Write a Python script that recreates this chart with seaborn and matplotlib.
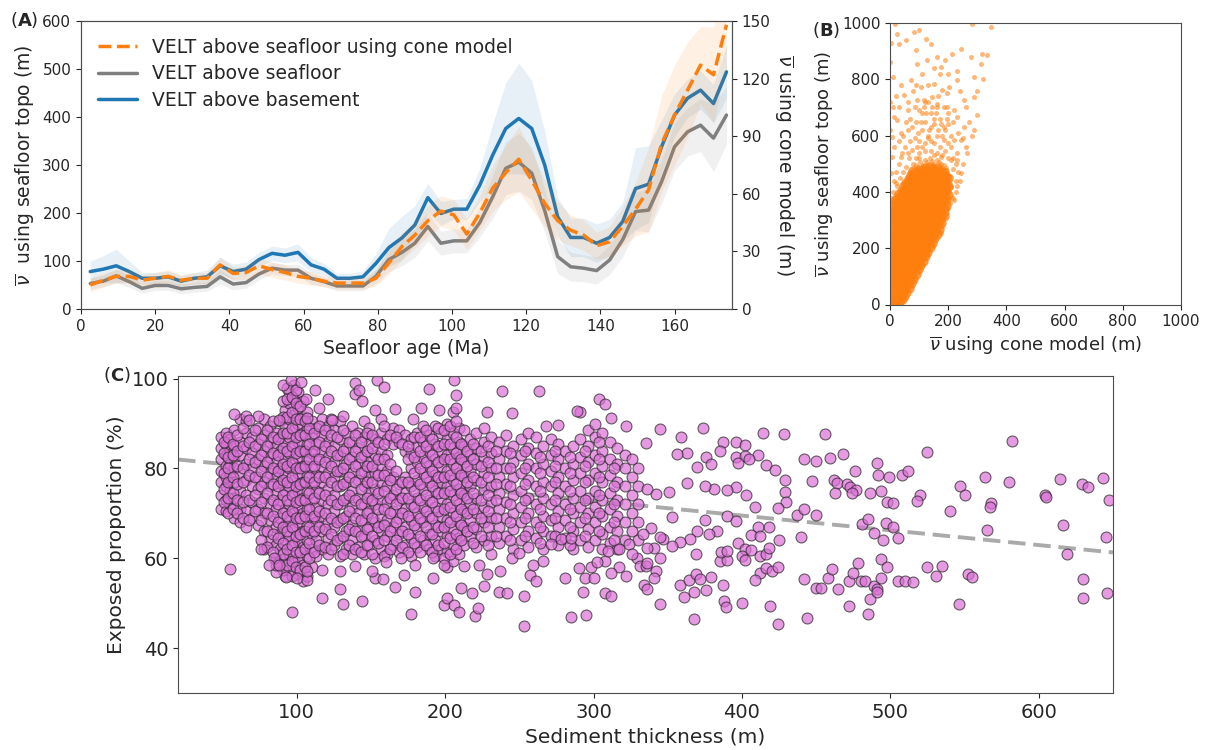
import matplotlib
matplotlib.use("Agg")
import matplotlib.pyplot as plt
import numpy as np
import pandas as pd
import seaborn as sns

# ---------------- panel A : binned VELT means ----------------
age = [2.5, 6, 9.5, 13, 16.5, 20, 23.5, 27, 30.5, 34, 37.5, 41, 44.5, 48, 51.5, 55, 58.5, 62, 65.5, 69,
       72.5, 76, 79.5, 83, 86.5, 90, 93.5, 97, 100.5, 104, 107.5, 111, 114.5, 118, 121.5, 125, 128.5, 132,
       135.5, 139, 142.5, 146, 149.5, 153, 156.5, 160, 163.5, 167, 170.5, 174]
basement = [78, 83, 90, 78, 64, 64, 67, 58, 64, 67, 90, 78, 83, 103, 116, 112, 118, 92, 83, 64,
            64, 67, 95, 128, 148, 175, 232, 199, 208, 208, 258, 321, 376, 397, 376, 300, 192, 149,
            149, 137, 149, 182, 251, 260, 338, 404, 439, 456, 428, 494]
seafloor = [53, 58, 69, 57, 43, 49, 49, 42, 45, 47, 67, 52, 55, 73, 85, 81, 81, 64, 57, 48,
            48, 48, 68, 103, 118, 137, 172, 137, 142, 142, 180, 234, 293, 306, 283, 205, 109, 88,
            85, 80, 102, 144, 203, 206, 265, 338, 369, 383, 356, 404]
cone = [12.5, 15, 17, 17, 15, 16, 17, 15, 16, 16, 23, 18.5, 19, 22.5, 20.5, 19, 17, 16, 14.5, 13.5,
        13.5, 13.5, 16, 24, 32.5, 38.5, 46, 51, 49, 39, 50, 63, 71, 78, 67, 55, 46, 41,
        38.5, 33, 35, 43, 52, 62, 86, 101, 114, 127, 122, 148]
basement_hw = [22, 28, 35, 22, 12, 12, 12, 12, 12, 14, 18, 15, 15, 15, 15, 15, 18, 15, 12, 10,
               10, 12, 20, 40, 45, 40, 30, 25, 20, 22, 35, 65, 95, 115, 100, 70, 40, 40,
               40, 40, 38, 40, 85, 80, 55, 45, 40, 40, 40, 55]
seafloor_hw = [12, 12, 14, 12, 10, 10, 10, 10, 10, 10, 15, 12, 12, 12, 12, 12, 12, 12, 10, 10,
               10, 10, 15, 25, 28, 30, 30, 25, 25, 25, 30, 45, 55, 60, 55, 45, 35, 30,
               28, 28, 30, 35, 40, 45, 45, 50, 50, 55, 70, 60]
cone_hw = [3.5, 3.5, 3.5, 3.5, 3, 3, 3.5, 3, 3, 3, 4, 3.5, 3.5, 4, 4, 4, 3.5, 3.5, 3, 3,
           3, 3, 4, 6, 7, 7, 8, 8, 8, 8, 9, 12, 14, 17, 15, 12, 10, 8,
           8, 7, 8, 10, 14, 22, 25, 26, 25, 20, 25, 22]

# ---------------- panel B : cone model vs seafloor topo ----------------
b_core = {
    0: [5, 30, 55, 80, 105, 130, 155, 180, 205, 230, 255, 280, 305, 330],
    8: [15, 42, 68, 95, 120, 148, 172, 198, 225, 250, 276, 300, 326, 352],
    16: [3, 28, 55, 80, 108, 132, 160, 185, 212, 238, 262, 290, 315, 340, 368],
    24: [12, 40, 65, 92, 118, 145, 170, 196, 222, 248, 274, 300, 325, 352, 380],
    32: [8, 28, 55, 80, 105, 132, 158, 184, 210, 236, 262, 288, 312, 338, 365, 392],
    40: [18, 42, 68, 95, 120, 146, 172, 198, 224, 250, 276, 302, 328, 354, 380, 405],
    48: [30, 55, 82, 108, 134, 160, 186, 212, 238, 264, 290, 316, 342, 368, 394, 420],
    56: [45, 70, 96, 122, 148, 174, 200, 226, 252, 278, 304, 330, 356, 382, 408, 432],
    64: [60, 86, 112, 138, 164, 190, 216, 242, 268, 294, 320, 346, 372, 398, 424, 446],
    72: [75, 100, 126, 152, 178, 204, 230, 256, 282, 308, 334, 360, 386, 412, 438, 460],
    80: [92, 118, 144, 170, 196, 222, 248, 274, 300, 326, 352, 378, 404, 430, 456, 475],
    88: [108, 134, 160, 186, 212, 238, 264, 290, 316, 342, 368, 394, 420, 446, 470],
    96: [125, 150, 176, 202, 228, 254, 280, 306, 332, 358, 384, 410, 436, 462],
    104: [140, 166, 192, 218, 244, 270, 296, 322, 348, 374, 400, 426, 452, 478],
    112: [156, 182, 208, 234, 260, 286, 312, 338, 364, 390, 416, 442, 468],
    120: [172, 198, 224, 250, 276, 302, 328, 354, 380, 406, 432, 458, 484],
    128: [188, 214, 240, 266, 292, 318, 344, 370, 396, 422, 448, 474],
    136: [204, 230, 256, 282, 308, 334, 360, 386, 412, 438, 464, 490],
    144: [220, 246, 272, 298, 324, 350, 376, 402, 428, 454, 480],
    152: [236, 262, 288, 314, 340, 366, 392, 418, 444, 470],
    160: [252, 278, 304, 330, 356, 382, 408, 434, 460, 486],
    168: [270, 296, 322, 348, 374, 400, 426, 452, 478],
    176: [290, 316, 342, 368, 394, 420, 446, 472],
    184: [315, 340, 366, 392, 418, 444, 470],
    192: [350, 376, 402, 428, 454],
    200: [390, 420, 450],
}
b_sparse = [(17, 998), (25, 962), (31, 927), (11, 809), (54, 939), (82, 968), (100, 974), (88, 903),
            (123, 945), (126, 868), (140, 927), (163, 880), (174, 844), (92, 856), (151, 785), (71, 797),
            (105, 773), (214, 891), (243, 909), (277, 880), (289, 809), (312, 856), (317, 891), (334, 885),
            (346, 986), (283, 998), (37, 779), (254, 726), (197, 750), (231, 797), (289, 738), (300, 673),
            (48, 744), (94, 726), (14, 667), (8, 596), (8, 525), (5, 466), (25, 655), (60, 691),
            (111, 679), (163, 714), (203, 773), (231, 667), (220, 584), (231, 514), (243, 466), (208, 419),
            (197, 325), (220, 372), (174, 254), (37, 608), (77, 632), (140, 632), (185, 632), (220, 691),
            (254, 632), (243, 584), (266, 537), (94, 561), (37, 525), (60, 537), (180, 761), (145, 738),
            (117, 726), (197, 702), (157, 679), (185, 584), (208, 514), (42, 372), (19, 431), (25, 348),
            (197, 466), (174, 525), (120, 650), (140, 680), (110, 620), (130, 600), (150, 640), (170, 660),
            (190, 620), (160, 700), (100, 580), (180, 600), (210, 560), (200, 640), (120, 720), (90, 650),
            (60, 620), (70, 580), (50, 560), (40, 540), (30, 500), (20, 470), (15, 440), (200, 520),
            (215, 480), (225, 440), (160, 600), (140, 580)]
b_mid = [(60, 450), (70, 470), (80, 500), (90, 520), (100, 540), (110, 560), (120, 575), (130, 590),
         (150, 575), (170, 560), (190, 545), (200, 575), (215, 520), (225, 500), (235, 470), (230, 540),
         (210, 600), (195, 660), (175, 640), (165, 620), (150, 660), (135, 620), (125, 680), (105, 650),
         (95, 610), (85, 590), (75, 550), (65, 520), (55, 490), (45, 470), (35, 450), (25, 420),
         (10, 400), (5, 380), (15, 560), (30, 580), (45, 600), (55, 650), (70, 660), (85, 700),
         (100, 690), (115, 700), (130, 720), (145, 700), (165, 740), (185, 700), (200, 680), (215, 650),
         (235, 610), (250, 590), (260, 560), (250, 500), (240, 440), (230, 420), (225, 400), (215, 380),
         (205, 360), (60, 720), (80, 760), (30, 700), (20, 740), (10, 700), (130, 780), (170, 820),
         (200, 820), (240, 760), (260, 700), (270, 650), (280, 600), (290, 620), (110, 820), (90, 780),
         (150, 840), (190, 870), (230, 830), (0, 620), (0, 720), (0, 860), (2, 930), (300, 760), (320, 800),
         (96, 490), (104, 505), (112, 495), (120, 515), (128, 505), (136, 520), (144, 510), (152, 500),
         (160, 515), (168, 505), (176, 500), (184, 495), (192, 485), (88, 495), (120, 545), (140, 545),
         (160, 540), (180, 530), (100, 520), (150, 530)]

# ---------------- panel C : sediment thickness vs exposed proportion ----------------
c_dense = {
    49: [71, 74, 77, 79.5, 82, 84.5, 87],
    52: [70.5, 73, 76, 78, 80.5, 83, 85.5, 88],
    55: [72, 75, 78.5, 81, 84, 86.5],
    58: [69, 73.5, 77, 80, 82.5, 85, 88.5],
    62: [68, 71, 75, 79, 83, 86, 91],
    66: [67, 70.5, 74, 77.5, 81, 84.5, 88, 90.5],
    70: [69, 72.5, 76, 80, 83.5, 87],
    74: [67.5, 71, 75.5, 78, 82, 85.5, 89],
    78: [62, 66, 70, 73.5, 77, 80.5, 84, 87.5, 91],
    82: [64, 68.5, 72, 76, 79, 82.5, 86, 89.5],
    86: [60, 63, 67, 71, 74.5, 78, 81.5, 85, 88],
    89: [58.5, 62, 65.5, 69, 73, 77, 80, 84, 87, 90.5],
    92: [56, 60, 64, 67.5, 71, 75, 78.5, 82, 86, 89.5, 93],
    95: [57.5, 61, 65, 68.5, 72, 76, 80, 83.5, 87, 91, 94.5, 97],
    98: [59.5, 63, 66.5, 70, 74, 77.5, 81, 85, 88.5, 92, 95.5, 98.5],
    101: [56.5, 60, 64, 68, 71.5, 75, 79, 82.5, 86, 90, 93.5, 97],
    104: [55, 58.5, 62.5, 66, 70, 73.5, 77, 80.5, 84, 88, 91.5, 95],
    107: [56, 60.5, 64, 67.5, 71, 75, 78.5, 82, 85.5, 89, 92.5],
    110: [58, 62, 65.5, 69, 73, 76.5, 80, 83.5, 87, 90.5],
    113: [60.5, 64, 68, 71.5, 75, 78.5, 82, 85.5, 89],
    117: [62, 66, 69.5, 73, 77, 80.5, 84, 87.5, 91],
    121: [61, 64.5, 68, 72, 75.5, 79, 82.5, 86, 89.5],
    125: [63, 67, 70.5, 74, 78, 81.5, 85, 88.5],
    129: [60.5, 64.5, 68.5, 72, 76, 79.5, 83, 86.5, 90.5],
    133: [62, 66, 69.5, 73.5, 77, 81, 84.5, 88],
    137: [61, 64, 67.5, 71.5, 75, 79, 82.5, 86, 89.5],
    141: [62.5, 66, 70, 73.5, 77.5, 81, 84.5, 88],
    145: [61, 65, 68.5, 72, 76, 79.5, 83, 87, 90.5],
    149: [63, 67, 70.5, 74.5, 78, 81.5, 85.5, 89],
    153: [60, 64, 68, 72, 75.5, 79, 83, 86.5],
    157: [62, 66, 69.5, 73, 77, 80.5, 84, 88, 91],
    161: [61, 65, 68.5, 72.5, 76, 79.5, 83, 86.5],
    165: [63, 67, 70.5, 74, 78, 85.5, 89],
    169: [61.5, 65.5, 69, 73, 76.5, 86, 88.5],
    173: [63, 67, 71, 74.5, 78, 84, 87.5],
    177: [60.5, 64.5, 68.5, 72, 76, 80, 83.5, 86.5],
    181: [62.5, 66.5, 70, 73.5, 77.5, 81.5, 85, 88],
    185: [64, 68, 71.5, 75.5, 79, 82.5, 86, 89.5],
    189: [62, 65.5, 69.5, 73, 77, 80.5, 84, 87.5],
    193: [60.5, 64, 67.5, 71.5, 75, 78.5, 82, 85.5, 89.5],
    197: [62, 66, 69.5, 73.5, 77, 80.5, 84, 88],
    201: [58, 61.5, 65, 68.5, 72, 76, 79.5, 83, 86.5, 90],
    205: [59.5, 63, 66.5, 70, 74, 77.5, 81, 84.5, 88, 92.5],
    209: [61, 64.5, 68, 72, 75.5, 79, 82.5, 86, 89],
    213: [63, 67, 70.5, 74, 78, 81.5, 85, 88.5],
    217: [65, 68.5, 72, 76, 79.5, 83, 86.5],
    221: [62.5, 66.5, 70, 73.5, 77.5, 81, 84.5, 88],
    226: [64, 68, 71.5, 75.5, 79, 82.5, 86, 89],
    231: [61, 65, 69, 72.5, 76, 80, 83.5, 87],
    236: [63.5, 67, 71, 74.5, 78, 82, 86],
    241: [65, 69, 72.5, 76.5, 80, 84, 87.5],
    246: [62, 66.5, 70, 74, 78, 81.5, 85],
    251: [64, 68, 71.5, 75, 79, 83, 86.5],
    256: [62.5, 66, 70, 73.5, 77.5, 81, 84.5, 88],
    261: [64.5, 68, 72, 76, 80, 83.5, 87],
    266: [62, 66, 69.5, 73.5, 77, 81, 85],
    271: [65, 68.5, 72, 76, 79.5, 83, 86.5],
    276: [63, 67, 70.5, 74.5, 78, 82, 85.5],
    281: [64.5, 68.5, 72, 76, 80, 84],
    286: [62, 66, 70, 73.5, 77.5, 81, 85],
    291: [64, 68, 71.5, 75, 79, 82.5, 86.5, 92.5],
    296: [62.5, 66.5, 70, 73.5, 77.5, 81.5, 85, 88.5],
    301: [64, 68, 71.5, 75, 79, 83, 87, 90],
    306: [62, 65.5, 69.5, 73, 77, 80.5, 84, 88],
    311: [63.5, 67, 71, 74.5, 78.5, 82, 86],
    316: [62, 66, 69.5, 73, 77, 81, 84.5],
    321: [64, 68, 72, 76, 80, 83],
    326: [66, 70, 74, 78, 82],
    330: [64, 68, 72, 76, 80],
}
c_dense2 = {
    51: [72.5, 75.5, 79, 83.5, 86],
    54: [70, 73.5, 77, 80, 82.5, 87],
    57: [71, 74.5, 78, 83, 85.5],
    60: [70, 73, 76.5, 80.5, 84, 87.5],
    64: [69, 72.5, 77, 80, 85, 89],
    68: [68.5, 73, 78.5, 82, 86],
    72: [70.5, 74, 78, 81.5, 85, 88.5],
    76: [64, 68.5, 72.5, 76, 79.5, 83, 86.5],
    80: [62.5, 66, 70, 74.5, 78, 81.5, 85, 88.5],
    84: [61.5, 65.5, 69.5, 73, 76.5, 80, 83.5, 87, 90.5],
    87.5: [59, 64.5, 68, 72, 76, 79.5, 83, 86.5],
    90.5: [57.5, 61, 63.5, 67, 70, 74, 77.5, 81, 84.5, 88, 91.5, 95],
    93.5: [58.5, 62, 66, 69.5, 73, 77, 80.5, 84, 88, 91.5, 95.5, 98],
    96.5: [56, 59.5, 63, 67, 70.5, 74, 78, 81.5, 85, 89, 92.5, 96],
    99.5: [58, 61.5, 65, 69, 72.5, 76, 80, 83.5, 87, 91, 94.5, 97.5],
    102.5: [57.5, 61.5, 65.5, 69, 73, 76.5, 80, 84, 87.5, 91, 94],
    105.5: [58, 62, 66, 69.5, 73, 77, 80.5, 84, 87.5, 90.5],
    108.5: [60, 63.5, 67, 71, 74.5, 78, 82, 85.5, 89],
    111.5: [61.5, 66, 69.5, 73.5, 77, 80.5, 84, 88],
    115: [63, 67, 70.5, 74.5, 78, 82, 86, 89.5],
    119: [62.5, 66.5, 70, 74, 78, 81.5, 85, 88.5],
    123: [62, 65.5, 69, 73, 77, 80.5, 84, 87.5, 91],
    127: [64, 68, 72, 76, 79.5, 83, 87],
    131: [61, 65, 69, 73, 76.5, 80, 84, 88.5],
    135: [63, 66.5, 70.5, 74, 78, 82, 86],
    139: [62, 66, 69, 73, 77, 80.5, 84, 87.5],
    143: [61.5, 65, 68.5, 72, 75.5, 79, 82.5, 86],
    147: [63, 66.5, 70, 73.5, 77, 80.5, 84, 88],
    151: [61, 65, 69, 73, 77, 80.5, 84.5, 87.5],
    155: [63.5, 67, 71, 74.5, 78.5, 82, 86],
    159: [60.5, 64, 67.5, 71, 75, 78.5, 82, 85.5, 89.5],
    163: [62, 66, 70, 73.5, 77.5, 81, 87.5],
    167: [64, 68, 72, 75.5, 79.5, 87],
    171: [62.5, 66, 70, 73.5, 77, 85.5],
    175: [61.5, 65.5, 69.5, 73.5, 77, 82, 85],
    179: [63.5, 67.5, 71.5, 75, 79, 82.5, 87],
    183: [61.5, 65, 69, 73, 76.5, 80, 84, 87],
    187: [63, 67, 70.5, 74, 78, 81.5, 85, 88.5],
    191: [61.5, 65.5, 69, 72.5, 76, 79.5, 83, 86.5],
    195: [63, 67, 70.5, 74.5, 78, 81.5, 85, 89],
    199: [60, 63.5, 67, 71, 74.5, 78, 82, 85.5, 88.5],
    203: [61, 64.5, 68, 71.5, 75, 78.5, 82, 85.5, 89.5],
    207: [62, 65.5, 69.5, 73, 76.5, 80, 83.5, 87, 90.5],
    211: [64, 67.5, 71, 74.5, 78.5, 82, 85.5],
    215: [66, 70, 73.5, 77, 80.5, 84],
    219: [63.5, 67, 71, 74.5, 78, 82, 85.5],
    224: [65, 69, 73, 77, 80.5, 84],
    229: [63, 67, 70.5, 74, 78, 81.5, 85],
    234: [65, 69, 73, 76.5, 80, 84],
    244: [64, 68, 72, 76, 80, 83.5],
    254: [65, 69, 73, 76.5, 80, 84],
    264: [63.5, 67, 71, 75, 79, 82.5],
    274: [65, 69, 73, 77, 80.5, 84],
    284: [63, 67, 71, 75, 79, 82.5],
    294: [65, 69, 73, 77, 80.5, 84],
    304: [66, 70, 74, 78, 82, 86],
    314: [64, 68, 72, 76, 80],
}
c_left = [(91, 98.7), (96, 99.7), (103, 99.2), (112, 97.4), (121, 95.5), (139, 96.5), (139, 99.1), (142, 97.4),
          (144, 95.0), (154, 99.7), (159, 98.1), (189, 97.6), (206, 99.6), (207, 96.3), (238, 97.2), (263, 97.2),
          (289, 92.9), (304, 95.5), (308, 94.4), (312, 91.2), (322, 89.5), (276, 89.7), (268, 89.4), (245, 92.4),
          (228, 92.5), (207, 93.5), (196, 93.1), (184, 93.5), (178, 91.0), (166, 93.2), (153, 93.1), (131, 91.6),
          (124, 90.9), (115, 93.5), (107, 91.2), (106, 95.4), (88, 90.9), (58, 92.1), (66, 91.7), (74, 91.6),
          (68, 90.7), (55, 57.7), (97, 48), (93, 55.8), (100, 55.6), (107, 55.2), (117, 51.1), (129, 53.2),
          (131, 49.8), (144, 50.4), (153, 55.6), (158, 55.4), (166, 53.5), (172, 56.2), (177, 47.5), (180, 52.6),
          (192, 55.6), (199, 49.5), (201, 51.1), (206, 49.6), (209, 48.1), (211, 53.4), (218, 52.2), (220, 47.2),
          (222, 49.0), (226, 53.9), (236, 52.6), (242, 52.2), (253, 45.0), (253, 51.5), (257, 56.3), (261, 54.9),
          (285, 47.0), (295, 47.3), (293, 52.6), (294, 55.6), (308, 52.2), (312, 51.5), (317, 58.0), (312, 56.7),
          (308, 59.4), (86, 57.0), (86, 58.6), (85, 60.1), (76, 62.1), (81, 58.6), (88, 58.6), (107, 57.1),
          (117, 57.5), (129, 57.1), (139, 58.2), (151, 57.1), (160, 59.2), (170, 60.1), (180, 58.6), (192, 60.1),
          (199, 58.6), (213, 58.2), (223, 58.6), (228, 56.4), (237, 57.1), (245, 60.1), (250, 61.2), (259, 58.6),
          (266, 59.4), (271, 63.1), (278, 64.2), (285, 64.6), (290, 57.9), (298, 58.0), (302, 59.2), (310, 61.6),
          (317, 62.0), (324, 63.1), (329, 60.1), (331, 58.2), (322, 56.0), (300, 55.6), (281, 55.6), (326, 60.9)]
c_right = [(345, 88.8), (374, 89.1), (359, 87.0), (414, 87.9), (428, 87.6), (456, 87.6), (582, 86.1), (525, 83.6),
           (335, 85.7), (387, 86.0), (396, 86.0), (402, 85.2), (363, 83.5), (356, 83.2), (376, 82.6), (385, 83.8),
           (396, 82.6), (402, 82.8), (411, 83.1), (370, 80.4), (379, 80.9), (397, 81.3), (405, 82.0), (416, 80.7),
           (422, 79.7), (442, 82.0), (450, 81.6), (459, 82.4), (468, 83.3), (491, 81.3), (476, 79.5), (492, 78.6),
           (499, 78.1), (508, 78.5), (512, 79.4), (564, 78.1), (580, 77.0), (614, 77.6), (629, 76.5), (633, 75.9),
           (643, 77.9), (429, 77.5), (447, 77.2), (462, 77.4), (464, 76.7), (471, 76.6), (473, 75.9), (477, 75.1),
           (474, 74.5), (463, 74.5), (486, 74.5), (494, 74.9), (429, 74.7), (430, 72.6), (424, 71.2), (409, 71.5),
           (403, 74.1), (396, 75.9), (390, 75.1), (381, 75.5), (375, 76.2), (363, 76.8), (351, 74.7), (342, 74.4),
           (336, 75.5), (547, 76.2), (550, 74.0), (520, 74.1), (518, 72.8), (498, 72.5), (502, 72.3), (540, 70.5),
           (568, 72.3), (567, 71.5), (604, 74.0), (605, 73.6), (647, 72.9), (437, 69.7), (442, 71.0), (450, 69.6),
           (353, 69.2), (375, 68.5), (390, 69.5), (396, 68.4), (481, 67.6), (485, 68.7), (489, 65.7), (497, 67.8),
           (502, 66.9), (505, 64.5), (565, 66.3), (616, 67.4), (645, 64.7), (619, 60.9), (495, 64.0), (440, 64.8),
           (418, 66.9), (411, 66.9), (406, 65.2), (412, 65.0), (425, 64.0), (370, 66.0), (383, 66.0), (378, 65.3),
           (365, 64.4), (358, 63.7), (353, 62.7), (347, 64.2), (345, 64.8), (339, 66.7), (333, 65.3), (341, 62.4),
           (336, 62.2), (345, 60.0), (335, 58.2), (336, 59.0), (342, 57.1), (341, 55.6), (334, 54.1), (336, 53.1),
           (358, 54.1), (364, 55.2), (369, 56.4), (372, 55.4), (379, 55.8), (387, 54.1), (385, 59.4), (390, 59.7),
           (386, 61.4), (390, 61.7), (397, 63.3), (402, 62.0), (400, 60.5), (402, 59.7), (406, 61.8), (412, 60.6),
           (416, 60.9), (418, 62.2), (412, 56.7), (416, 57.9), (420, 57.2), (424, 58.1), (409, 55.2), (369, 60.9),
           (376, 53.0), (361, 51.3), (368, 52.6), (388, 50.5), (389, 49.2), (400, 50.1), (419, 49.4), (424, 45.3),
           (368, 46.4), (345, 49.8), (444, 46.8), (442, 55.4), (450, 53.4), (453, 53.4), (458, 55.7), (461, 57.7),
           (465, 53.2), (472, 55.0), (478, 59.0), (475, 56.7), (480, 55.0), (483, 55.0), (485, 47.5), (472, 49.4),
           (486, 51.0), (489, 53.9), (491, 53.1), (494, 55.6), (494, 59.9), (498, 58.1), (491, 52.6), (505, 55.0),
           (510, 54.9), (515, 54.7), (525, 58.1), (531, 56.1), (535, 58.2), (546, 49.8), (552, 56.6), (555, 55.8),
           (630, 55.4), (630, 51.1), (646, 52.2)]
reg_x = [20, 650]
reg_y = [82.0, 61.3]


def cols_to_df(cols, xname, yname):
    rows = [(x, y) for x, ys in cols.items() for y in ys]
    return pd.DataFrame(rows, columns=[xname, yname])


sns.set_style("ticks", {"axes.edgecolor": "0.3"})
plt.rcParams["font.family"] = ["DejaVu Sans"]

BLUE, GRAY, ORANGE = "#1f77b4", "#7f7f7f", "#ff7f0e"
nu = r"$\overline{\nu}$"

fig = plt.figure(figsize=(12.07, 7.5), dpi=100)

# ---- A ----
ax1 = fig.add_axes([0.0671, 0.588, 0.5394, 0.384])
ax2 = ax1.twinx()
dfa = pd.DataFrame({"age": age, "basement": basement, "seafloor": seafloor, "cone": cone})
b = np.array(basement); s = np.array(seafloor); c = np.array(cone)
ax1.fill_between(age, b - np.array(basement_hw), b + np.array(basement_hw), color=BLUE, alpha=0.11, lw=0)
ax1.fill_between(age, s - np.array(seafloor_hw), s + np.array(seafloor_hw), color=GRAY, alpha=0.11, lw=0)
sns.lineplot(data=dfa, x="age", y="seafloor", color=GRAY, lw=2.5, ax=ax1, label="VELT above seafloor")
sns.lineplot(data=dfa, x="age", y="basement", color=BLUE, lw=2.5, ax=ax1, label="VELT above basement")
ax2.fill_between(age, c - np.array(cone_hw), c + np.array(cone_hw), color=ORANGE, alpha=0.11, lw=0)
sns.lineplot(data=dfa, x="age", y="cone", color=ORANGE, lw=2.5, linestyle="--", ax=ax2,
             label="VELT above seafloor using cone model")

ax1.set_xlim(0, 175.5)
ax1.set_ylim(0, 600)
ax2.set_ylim(0, 150)
ax1.set_xticks(range(0, 161, 20))
ax1.set_yticks(range(0, 601, 100))
ax2.set_yticks(range(0, 151, 30))
ax1.tick_params(labelsize=11)
ax2.tick_params(labelsize=11)
ax1.set_xlabel("Seafloor age (Ma)", fontsize=13.5)
ax1.set_ylabel(nu + "  using seafloor topo (m)", fontsize=13.5)
ax2.set_ylabel(nu + " using cone model (m)", fontsize=13.5, rotation=270, labelpad=18)
h1, l1 = ax1.get_legend_handles_labels()
h2, l2 = ax2.get_legend_handles_labels()
for a in (ax1, ax2):
    if a.get_legend() is not None:
        a.get_legend().remove()
ax2.legend(h2 + h1, l2 + l1, loc="upper left", frameon=False, fontsize=13.5,
           handlelength=2.1, handletextpad=0.8, labelspacing=0.4)

# ---- B ----
axb = fig.add_axes([0.7374, 0.594, 0.2411, 0.3753])
dfb_core = cols_to_df(b_core, "cone", "topo")
dfb_sp = pd.DataFrame(b_sparse + b_mid, columns=["cone", "topo"])
sns.scatterplot(data=dfb_core, x="cone", y="topo", color=ORANGE, s=55, alpha=0.8, linewidth=0, ax=axb)
sns.scatterplot(data=dfb_sp, x="cone", y="topo", color=ORANGE, s=13, alpha=0.55, linewidth=0, ax=axb)
axb.set_xlim(0, 1000)
axb.set_ylim(0, 1000)
axb.set_xticks(range(0, 1001, 200))
axb.set_yticks(range(0, 1001, 200))
axb.tick_params(labelsize=11)
axb.set_xlabel(nu + " using cone model (m)", fontsize=13)
axb.set_ylabel(nu + " using seafloor topo (m)", fontsize=13)

# ---- C ----
axc = fig.add_axes([0.1475, 0.076, 0.7746, 0.4227])
dfc = pd.concat([cols_to_df(c_dense, "sed", "exp"),
                 cols_to_df(c_dense2, "sed", "exp"),
                 pd.DataFrame(c_left, columns=["sed", "exp"]),
                 pd.DataFrame(c_right, columns=["sed", "exp"])], ignore_index=True)
sns.lineplot(x=reg_x, y=reg_y, color="#aaaaaa", lw=2.8, linestyle=(0, (4.5, 2)), ax=axc, zorder=1)
sns.scatterplot(data=dfc, x="sed", y="exp", color="orchid", edgecolor="0.15", s=62, alpha=0.7,
                linewidth=0.8, ax=axc, zorder=2)
axc.set_xlim(20, 650)
axc.set_ylim(30, 100.6)
axc.set_xticks(range(100, 601, 100))
axc.set_yticks([40, 60, 80, 100])
axc.tick_params(labelsize=14)
axc.set_xlabel("Sediment thickness (m)", fontsize=14.5)
axc.set_ylabel("Exposed proportion (%)", fontsize=14.5)

# panel letters
fig.text(0.008, 0.973, r"($\mathbf{A}$)", fontsize=13, ha="left", va="center")
fig.text(0.673, 0.960, r"($\mathbf{B}$)", fontsize=13, ha="left", va="center")
fig.text(0.0853, 0.500, r"($\mathbf{C}$)", fontsize=13, ha="left", va="center")

fig.savefig("out.png", dpi=100)
